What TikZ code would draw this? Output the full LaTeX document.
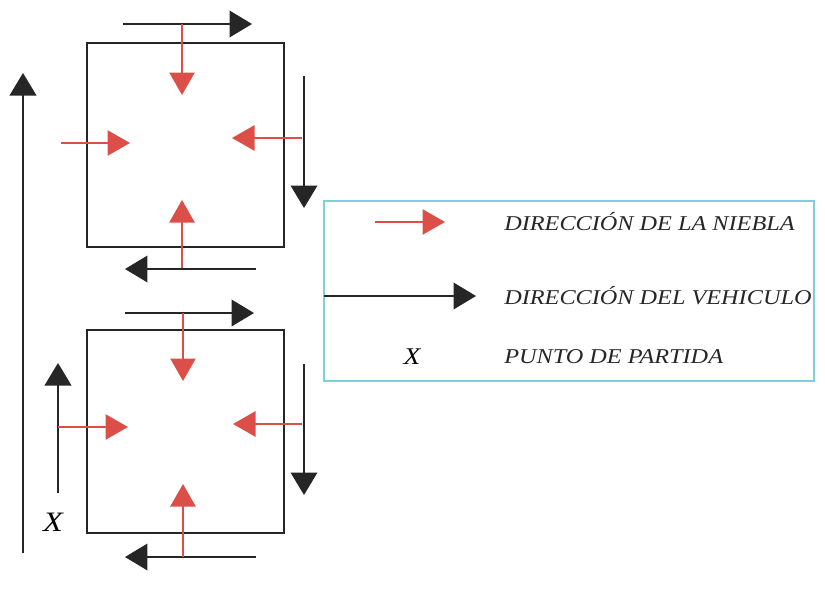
\documentclass[tikz,border=0pt]{standalone}
\usepackage{fontspec}
\setmainfont{Liberation Serif}
\newfontfamily\keyfont[FakeStretch=1.15]{Liberation Serif}
\usetikzlibrary{arrows.meta}
\definecolor{fogred}{RGB}{220,78,72}
\definecolor{carblack}{RGB}{38,38,38}
\definecolor{keycyan}{RGB}{125,208,218}

\begin{document}
\begin{tikzpicture}[x=0.025cm, y=-0.025cm,
    fog/.style={draw=fogred, line width=1.1pt, -{Triangle[length=16pt, width=18pt]}, fogred},
    car/.style={draw=carblack, line width=1.1pt, -{Triangle[length=16pt, width=19pt]}, carblack},
    room/.style={draw=carblack, line width=1pt},
    keytext/.style={font=\keyfont\fontsize{15}{17}\selectfont\itshape, text=carblack, anchor=west, inner sep=0pt}]

    \useasboundingbox (0,0) rectangle (825,588);

    % Rooms
    \draw[room] (87,43) rectangle (284,247);
    \draw[room] (87,330) rectangle (284,533);

    % Vehicle path
    \draw[car] (23,553) -- (23,73);
    \draw[car] (58,493) -- (58,363);
    \node (startx) at (53,522) {\keyfont\fontsize{20}{22}\selectfont\itshape X};

    % Upper room
    \draw[car] (123,24) -- (252,24);
    \draw[car] (304,76) -- (304,208);
    \draw[car] (256,269) -- (125,269);
    \draw[fog] (182,24) -- (182,95);
    \draw[fog] (61,143) -- (130,143);
    \draw[fog] (302,138) -- (232,138);
    \draw[fog] (182,268) -- (182,200);

    % Lower room
    \draw[car] (125,313) -- (254,313);
    \draw[car] (304,364) -- (304,495);
    \draw[car] (256,557) -- (125,557);
    \draw[fog] (183,313) -- (183,381);
    \draw[fog] (58,427) -- (128,427);
    \draw[fog] (302,424) -- (233,424);
    \draw[fog] (183,557) -- (183,484);

    % Key
    \draw[keycyan, line width=0.8pt] (324,201) rectangle (814,381);
    \draw[fog] (375,222) -- (445,222);
    \draw[car] (324,296) -- (476,296);
    \node (xkey) at (412,357) {\keyfont\fontsize{17}{19}\selectfont\itshape X};
    \node (fogtext) [keytext] at (504,222) {DIRECCIÓN DE LA NIEBLA};
    \node (cartext) [keytext] at (504,296) {DIRECCIÓN DEL VEHICULO};
    \node (xtext) [keytext] at (504,357) {PUNTO DE PARTIDA};
\end{tikzpicture}
\end{document}
